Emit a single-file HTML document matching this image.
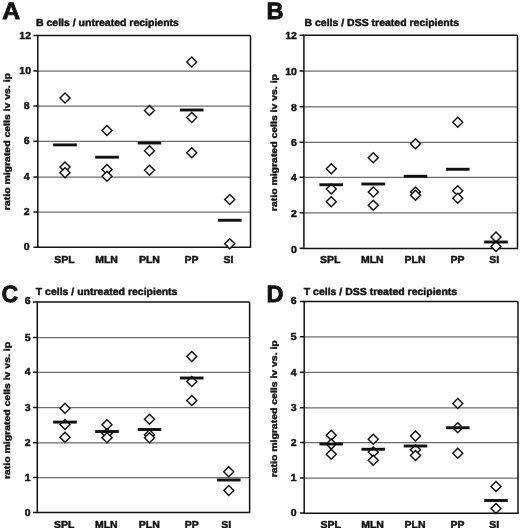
<!DOCTYPE html>
<html><head><meta charset="utf-8"><title>Figure</title>
<style>html,body{margin:0;padding:0;background:#fff}svg{display:block;filter:grayscale(1)}text{font-family:"Liberation Sans",sans-serif;font-weight:bold;text-rendering:geometricPrecision;stroke:#111;stroke-width:0.45px;paint-order:stroke}</style></head><body>
<svg width="520" height="528" viewBox="0 0 520 528">
<rect width="520" height="528" fill="#fff"/>
<g id="panelA" opacity="0.999">
<line x1="37.8" y1="71.0" x2="250.5" y2="71.0" stroke="#6c6c6c" stroke-width="1.25"/>
<line x1="37.8" y1="106.0" x2="250.5" y2="106.0" stroke="#6c6c6c" stroke-width="1.25"/>
<line x1="37.8" y1="141.25" x2="250.5" y2="141.25" stroke="#6c6c6c" stroke-width="1.25"/>
<line x1="37.8" y1="177.0" x2="250.5" y2="177.0" stroke="#6c6c6c" stroke-width="1.25"/>
<line x1="37.8" y1="212.0" x2="250.5" y2="212.0" stroke="#6c6c6c" stroke-width="1.25"/>
<path d="M37.8 247.25L37.8 35.5L249.5 35.5Q250.5 35.5 250.5 36.5L250.5 247.25Z" fill="none" stroke="#111" stroke-width="1.5"/>
<line x1="33.5" y1="35.5" x2="37.8" y2="35.5" stroke="#111" stroke-width="1.5"/>
<text transform="translate(31.0 38.5) scale(1.03 1.0)" text-anchor="end" font-size="10.2" fill="#111">12</text>
<line x1="33.5" y1="71.0" x2="37.8" y2="71.0" stroke="#111" stroke-width="1.5"/>
<text transform="translate(31.0 74.0) scale(1.03 1.0)" text-anchor="end" font-size="10.2" fill="#111">10</text>
<line x1="33.5" y1="106.0" x2="37.8" y2="106.0" stroke="#111" stroke-width="1.5"/>
<text transform="translate(29.5 109.0) scale(1.03 1.0)" text-anchor="end" font-size="10.2" fill="#111">8</text>
<line x1="33.5" y1="141.25" x2="37.8" y2="141.25" stroke="#111" stroke-width="1.5"/>
<text transform="translate(29.5 144.25) scale(1.03 1.0)" text-anchor="end" font-size="10.2" fill="#111">6</text>
<line x1="33.5" y1="177.0" x2="37.8" y2="177.0" stroke="#111" stroke-width="1.5"/>
<text transform="translate(29.5 180.0) scale(1.03 1.0)" text-anchor="end" font-size="10.2" fill="#111">4</text>
<line x1="33.5" y1="212.0" x2="37.8" y2="212.0" stroke="#111" stroke-width="1.5"/>
<text transform="translate(29.5 215.0) scale(1.03 1.0)" text-anchor="end" font-size="10.2" fill="#111">2</text>
<line x1="33.5" y1="247.25" x2="37.8" y2="247.25" stroke="#111" stroke-width="1.5"/>
<text transform="translate(29.5 250.25) scale(1.03 1.0)" text-anchor="end" font-size="10.2" fill="#111">0</text>
<path d="M60.00 98.00L65.00 93.00L70.00 98.00L65.00 103.00Z" fill="#fff" stroke="#111" stroke-width="1.45"/>
<path d="M60.00 167.00L65.00 162.00L70.00 167.00L65.00 172.00Z" fill="#fff" stroke="#111" stroke-width="1.45"/>
<path d="M60.00 172.75L65.00 167.75L70.00 172.75L65.00 177.75Z" fill="#fff" stroke="#111" stroke-width="1.45"/>
<rect x="53.20" y="143.45" width="23.6" height="2.9" fill="#111"/>
<path d="M102.00 130.50L107.00 125.50L112.00 130.50L107.00 135.50Z" fill="#fff" stroke="#111" stroke-width="1.45"/>
<path d="M102.00 169.50L107.00 164.50L112.00 169.50L107.00 174.50Z" fill="#fff" stroke="#111" stroke-width="1.45"/>
<path d="M102.00 176.25L107.00 171.25L112.00 176.25L107.00 181.25Z" fill="#fff" stroke="#111" stroke-width="1.45"/>
<rect x="95.20" y="155.75" width="23.6" height="2.9" fill="#111"/>
<path d="M144.50 110.50L149.50 105.50L154.50 110.50L149.50 115.50Z" fill="#fff" stroke="#111" stroke-width="1.45"/>
<path d="M144.50 150.75L149.50 145.75L154.50 150.75L149.50 155.75Z" fill="#fff" stroke="#111" stroke-width="1.45"/>
<path d="M144.50 170.25L149.50 165.25L154.50 170.25L149.50 175.25Z" fill="#fff" stroke="#111" stroke-width="1.45"/>
<rect x="137.70" y="141.55" width="23.6" height="2.9" fill="#111"/>
<path d="M186.75 62.00L191.75 57.00L196.75 62.00L191.75 67.00Z" fill="#fff" stroke="#111" stroke-width="1.45"/>
<path d="M186.75 117.50L191.75 112.50L196.75 117.50L191.75 122.50Z" fill="#fff" stroke="#111" stroke-width="1.45"/>
<path d="M186.75 152.75L191.75 147.75L196.75 152.75L191.75 157.75Z" fill="#fff" stroke="#111" stroke-width="1.45"/>
<rect x="179.95" y="108.55" width="23.6" height="2.9" fill="#111"/>
<path d="M224.75 199.50L229.75 194.50L234.75 199.50L229.75 204.50Z" fill="#fff" stroke="#111" stroke-width="1.45"/>
<path d="M224.75 243.75L229.75 238.75L234.75 243.75L229.75 248.75Z" fill="#fff" stroke="#111" stroke-width="1.45"/>
<rect x="217.95" y="218.80" width="23.6" height="2.9" fill="#111"/>
<text transform="translate(64.5 263.0) scale(1.03 1.0)" text-anchor="middle" font-size="10.2" fill="#111">SPL</text>
<text transform="translate(106.5 263.0) scale(1.03 1.0)" text-anchor="middle" font-size="10.2" fill="#111">MLN</text>
<text transform="translate(149.4 263.0) scale(1.03 1.0)" text-anchor="middle" font-size="10.2" fill="#111">PLN</text>
<text transform="translate(191.5 263.0) scale(1.03 1.0)" text-anchor="middle" font-size="10.2" fill="#111">PP</text>
<text transform="translate(228.5 263.0) scale(1.03 1.0)" text-anchor="middle" font-size="10.2" fill="#111">SI</text>
<text transform="translate(36 25.7) scale(1.03 1.0)" text-anchor="start" font-size="10.2" fill="#111">B cells / untreated recipients</text>
<text transform="translate(2.3 19.2) scale(1.05 1.0)" text-anchor="start" font-size="23.6" fill="#111" style="stroke-width:0.8px">A</text>
<text transform="translate(10.2 141.6) rotate(-90) scale(1.045 0.88)" text-anchor="middle" font-size="10" fill="#111">ratio migrated cells iv vs. ip</text>
</g>
<g id="panelB" opacity="0.999">
<line x1="303.9" y1="71.0" x2="517.5" y2="71.0" stroke="#6c6c6c" stroke-width="1.25"/>
<line x1="303.9" y1="106.75" x2="517.5" y2="106.75" stroke="#6c6c6c" stroke-width="1.25"/>
<line x1="303.9" y1="142.25" x2="517.5" y2="142.25" stroke="#6c6c6c" stroke-width="1.25"/>
<line x1="303.9" y1="177.25" x2="517.5" y2="177.25" stroke="#6c6c6c" stroke-width="1.25"/>
<line x1="303.9" y1="212.75" x2="517.5" y2="212.75" stroke="#6c6c6c" stroke-width="1.25"/>
<path d="M303.9 248.4L303.9 35.25L516.5 35.25Q517.5 35.25 517.5 36.25L517.5 248.4Z" fill="none" stroke="#111" stroke-width="1.5"/>
<line x1="299.59999999999997" y1="35.25" x2="303.9" y2="35.25" stroke="#111" stroke-width="1.5"/>
<text transform="translate(296.9 38.85) scale(1.03 1.0)" text-anchor="end" font-size="10.2" fill="#111">12</text>
<line x1="299.59999999999997" y1="71.0" x2="303.9" y2="71.0" stroke="#111" stroke-width="1.5"/>
<text transform="translate(296.9 75.0) scale(1.03 1.0)" text-anchor="end" font-size="10.2" fill="#111">10</text>
<line x1="299.59999999999997" y1="106.75" x2="303.9" y2="106.75" stroke="#111" stroke-width="1.5"/>
<text transform="translate(296.9 110.75) scale(1.03 1.0)" text-anchor="end" font-size="10.2" fill="#111">8</text>
<line x1="299.59999999999997" y1="142.25" x2="303.9" y2="142.25" stroke="#111" stroke-width="1.5"/>
<text transform="translate(296.9 146.25) scale(1.03 1.0)" text-anchor="end" font-size="10.2" fill="#111">6</text>
<line x1="299.59999999999997" y1="177.25" x2="303.9" y2="177.25" stroke="#111" stroke-width="1.5"/>
<text transform="translate(296.9 181.25) scale(1.03 1.0)" text-anchor="end" font-size="10.2" fill="#111">4</text>
<line x1="299.59999999999997" y1="212.75" x2="303.9" y2="212.75" stroke="#111" stroke-width="1.5"/>
<text transform="translate(296.9 216.75) scale(1.03 1.0)" text-anchor="end" font-size="10.2" fill="#111">2</text>
<line x1="299.59999999999997" y1="248.25" x2="303.9" y2="248.25" stroke="#111" stroke-width="1.5"/>
<text transform="translate(296.9 252.75) scale(1.03 1.0)" text-anchor="end" font-size="10.2" fill="#111">0</text>
<path d="M326.25 168.75L331.25 163.75L336.25 168.75L331.25 173.75Z" fill="#fff" stroke="#111" stroke-width="1.45"/>
<path d="M326.25 189.00L331.25 184.00L336.25 189.00L331.25 194.00Z" fill="#fff" stroke="#111" stroke-width="1.45"/>
<path d="M326.25 201.75L331.25 196.75L336.25 201.75L331.25 206.75Z" fill="#fff" stroke="#111" stroke-width="1.45"/>
<rect x="319.45" y="183.30" width="23.6" height="2.9" fill="#111"/>
<path d="M368.25 157.75L373.25 152.75L378.25 157.75L373.25 162.75Z" fill="#fff" stroke="#111" stroke-width="1.45"/>
<path d="M368.25 192.00L373.25 187.00L378.25 192.00L373.25 197.00Z" fill="#fff" stroke="#111" stroke-width="1.45"/>
<path d="M368.25 205.25L373.25 200.25L378.25 205.25L373.25 210.25Z" fill="#fff" stroke="#111" stroke-width="1.45"/>
<rect x="361.45" y="182.55" width="23.6" height="2.9" fill="#111"/>
<path d="M410.50 143.75L415.50 138.75L420.50 143.75L415.50 148.75Z" fill="#fff" stroke="#111" stroke-width="1.45"/>
<path d="M410.50 192.00L415.50 187.00L420.50 192.00L415.50 197.00Z" fill="#fff" stroke="#111" stroke-width="1.45"/>
<path d="M410.50 195.25L415.50 190.25L420.50 195.25L415.50 200.25Z" fill="#fff" stroke="#111" stroke-width="1.45"/>
<rect x="403.70" y="174.80" width="23.6" height="2.9" fill="#111"/>
<path d="M452.75 122.25L457.75 117.25L462.75 122.25L457.75 127.25Z" fill="#fff" stroke="#111" stroke-width="1.45"/>
<path d="M452.75 190.75L457.75 185.75L462.75 190.75L457.75 195.75Z" fill="#fff" stroke="#111" stroke-width="1.45"/>
<path d="M452.75 198.25L457.75 193.25L462.75 198.25L457.75 203.25Z" fill="#fff" stroke="#111" stroke-width="1.45"/>
<rect x="445.95" y="167.80" width="23.6" height="2.9" fill="#111"/>
<path d="M491.00 237.00L496.00 232.00L501.00 237.00L496.00 242.00Z" fill="#fff" stroke="#111" stroke-width="1.45"/>
<path d="M491.00 246.50L496.00 241.50L501.00 246.50L496.00 251.50Z" fill="#fff" stroke="#111" stroke-width="1.45"/>
<rect x="484.20" y="240.55" width="23.6" height="2.9" fill="#111"/>
<text transform="translate(330.2 263.1) scale(1.03 1.0)" text-anchor="middle" font-size="10.2" fill="#111">SPL</text>
<text transform="translate(372.3 263.1) scale(1.03 1.0)" text-anchor="middle" font-size="10.2" fill="#111">MLN</text>
<text transform="translate(415 263.1) scale(1.03 1.0)" text-anchor="middle" font-size="10.2" fill="#111">PLN</text>
<text transform="translate(457.5 263.1) scale(1.03 1.0)" text-anchor="middle" font-size="10.2" fill="#111">PP</text>
<text transform="translate(494.25 263.1) scale(1.03 1.0)" text-anchor="middle" font-size="10.2" fill="#111">SI</text>
<text transform="translate(304.5 25.7) scale(1.03 1.0)" text-anchor="start" font-size="10.2" fill="#111">B cells / DSS treated recipients</text>
<text transform="translate(266.5 18.7) scale(1.0 1.0)" text-anchor="start" font-size="23.6" fill="#111" style="stroke-width:0.8px">B</text>
<text transform="translate(277.2 142.6) rotate(-90) scale(1.045 0.88)" text-anchor="middle" font-size="10" fill="#111">ratio migrated cells iv vs. ip</text>
</g>
<g id="panelC" opacity="0.999">
<line x1="37.3" y1="337.5" x2="249.6" y2="337.5" stroke="#6c6c6c" stroke-width="1.25"/>
<line x1="37.3" y1="372.25" x2="249.6" y2="372.25" stroke="#6c6c6c" stroke-width="1.25"/>
<line x1="37.3" y1="407.5" x2="249.6" y2="407.5" stroke="#6c6c6c" stroke-width="1.25"/>
<line x1="37.3" y1="442.75" x2="249.6" y2="442.75" stroke="#6c6c6c" stroke-width="1.25"/>
<line x1="37.3" y1="477.5" x2="249.6" y2="477.5" stroke="#6c6c6c" stroke-width="1.25"/>
<path d="M37.3 512.6L37.3 302L248.6 302Q249.6 302 249.6 303L249.6 512.6Z" fill="none" stroke="#111" stroke-width="1.5"/>
<line x1="33.0" y1="302" x2="37.3" y2="302" stroke="#111" stroke-width="1.5"/>
<text transform="translate(30.5 304.1) scale(1.03 1.0)" text-anchor="end" font-size="10.2" fill="#111">6</text>
<line x1="33.0" y1="337.5" x2="37.3" y2="337.5" stroke="#111" stroke-width="1.5"/>
<text transform="translate(30.5 340.6) scale(1.03 1.0)" text-anchor="end" font-size="10.2" fill="#111">5</text>
<line x1="33.0" y1="372.25" x2="37.3" y2="372.25" stroke="#111" stroke-width="1.5"/>
<text transform="translate(30.5 375.35) scale(1.03 1.0)" text-anchor="end" font-size="10.2" fill="#111">4</text>
<line x1="33.0" y1="407.5" x2="37.3" y2="407.5" stroke="#111" stroke-width="1.5"/>
<text transform="translate(30.5 410.6) scale(1.03 1.0)" text-anchor="end" font-size="10.2" fill="#111">3</text>
<line x1="33.0" y1="442.75" x2="37.3" y2="442.75" stroke="#111" stroke-width="1.5"/>
<text transform="translate(30.5 445.85) scale(1.03 1.0)" text-anchor="end" font-size="10.2" fill="#111">2</text>
<line x1="33.0" y1="477.5" x2="37.3" y2="477.5" stroke="#111" stroke-width="1.5"/>
<text transform="translate(30.5 480.6) scale(1.03 1.0)" text-anchor="end" font-size="10.2" fill="#111">1</text>
<line x1="33.0" y1="512.5" x2="37.3" y2="512.5" stroke="#111" stroke-width="1.5"/>
<text transform="translate(30.5 515.6) scale(1.03 1.0)" text-anchor="end" font-size="10.2" fill="#111">0</text>
<path d="M60.00 408.30L65.00 403.30L70.00 408.30L65.00 413.30Z" fill="#fff" stroke="#111" stroke-width="1.45"/>
<path d="M60.00 424.50L65.00 419.50L70.00 424.50L65.00 429.50Z" fill="#fff" stroke="#111" stroke-width="1.45"/>
<path d="M60.00 437.20L65.00 432.20L70.00 437.20L65.00 442.20Z" fill="#fff" stroke="#111" stroke-width="1.45"/>
<rect x="53.20" y="420.65" width="23.6" height="2.9" fill="#111"/>
<path d="M102.00 424.75L107.00 419.75L112.00 424.75L107.00 429.75Z" fill="#fff" stroke="#111" stroke-width="1.45"/>
<path d="M102.00 433.50L107.00 428.50L112.00 433.50L107.00 438.50Z" fill="#fff" stroke="#111" stroke-width="1.45"/>
<path d="M102.00 437.75L107.00 432.75L112.00 437.75L107.00 442.75Z" fill="#fff" stroke="#111" stroke-width="1.45"/>
<rect x="95.20" y="430.05" width="23.6" height="2.9" fill="#111"/>
<path d="M144.50 419.25L149.50 414.25L154.50 419.25L149.50 424.25Z" fill="#fff" stroke="#111" stroke-width="1.45"/>
<path d="M144.50 434.75L149.50 429.75L154.50 434.75L149.50 439.75Z" fill="#fff" stroke="#111" stroke-width="1.45"/>
<path d="M144.50 437.75L149.50 432.75L154.50 437.75L149.50 442.75Z" fill="#fff" stroke="#111" stroke-width="1.45"/>
<rect x="137.70" y="428.05" width="23.6" height="2.9" fill="#111"/>
<path d="M186.75 356.50L191.75 351.50L196.75 356.50L191.75 361.50Z" fill="#fff" stroke="#111" stroke-width="1.45"/>
<path d="M186.75 381.50L191.75 376.50L196.75 381.50L191.75 386.50Z" fill="#fff" stroke="#111" stroke-width="1.45"/>
<path d="M186.75 400.50L191.75 395.50L196.75 400.50L191.75 405.50Z" fill="#fff" stroke="#111" stroke-width="1.45"/>
<rect x="179.95" y="376.55" width="23.6" height="2.9" fill="#111"/>
<path d="M223.75 471.75L228.75 466.75L233.75 471.75L228.75 476.75Z" fill="#fff" stroke="#111" stroke-width="1.45"/>
<path d="M223.75 490.50L228.75 485.50L233.75 490.50L228.75 495.50Z" fill="#fff" stroke="#111" stroke-width="1.45"/>
<rect x="216.95" y="478.55" width="23.6" height="2.9" fill="#111"/>
<text transform="translate(64.25 527.9) scale(1.03 1.0)" text-anchor="middle" font-size="10.2" fill="#111">SPL</text>
<text transform="translate(106.25 527.9) scale(1.03 1.0)" text-anchor="middle" font-size="10.2" fill="#111">MLN</text>
<text transform="translate(149.25 527.9) scale(1.03 1.0)" text-anchor="middle" font-size="10.2" fill="#111">PLN</text>
<text transform="translate(191.75 527.9) scale(1.03 1.0)" text-anchor="middle" font-size="10.2" fill="#111">PP</text>
<text transform="translate(226.25 527.9) scale(1.03 1.0)" text-anchor="middle" font-size="10.2" fill="#111">SI</text>
<text transform="translate(35.75 295.2) scale(1.03 1.0)" text-anchor="start" font-size="10.2" fill="#111">T cells / untreated recipients</text>
<text transform="translate(1.6 302.0) scale(0.98 1.0)" text-anchor="start" font-size="23.6" fill="#111" style="stroke-width:0.8px">C</text>
<text transform="translate(10.4 410.5) rotate(-90) scale(1.045 0.88)" text-anchor="middle" font-size="10" fill="#111">ratio migrated cells iv vs. ip</text>
</g>
<g id="panelD" opacity="0.999">
<line x1="304.2" y1="336.75" x2="518" y2="336.75" stroke="#6c6c6c" stroke-width="1.25"/>
<line x1="304.2" y1="372.25" x2="518" y2="372.25" stroke="#6c6c6c" stroke-width="1.25"/>
<line x1="304.2" y1="407.75" x2="518" y2="407.75" stroke="#6c6c6c" stroke-width="1.25"/>
<line x1="304.2" y1="442.5" x2="518" y2="442.5" stroke="#6c6c6c" stroke-width="1.25"/>
<line x1="304.2" y1="478" x2="518" y2="478" stroke="#6c6c6c" stroke-width="1.25"/>
<path d="M304.2 513.2L304.2 301.5L517 301.5Q518 301.5 518 302.5L518 513.2Z" fill="none" stroke="#111" stroke-width="1.5"/>
<line x1="299.9" y1="301.5" x2="304.2" y2="301.5" stroke="#111" stroke-width="1.5"/>
<text transform="translate(296.7 303.8) scale(1.03 1.0)" text-anchor="end" font-size="10.2" fill="#111">6</text>
<line x1="299.9" y1="336.75" x2="304.2" y2="336.75" stroke="#111" stroke-width="1.5"/>
<text transform="translate(296.7 340.05) scale(1.03 1.0)" text-anchor="end" font-size="10.2" fill="#111">5</text>
<line x1="299.9" y1="372.25" x2="304.2" y2="372.25" stroke="#111" stroke-width="1.5"/>
<text transform="translate(296.7 375.55) scale(1.03 1.0)" text-anchor="end" font-size="10.2" fill="#111">4</text>
<line x1="299.9" y1="407.75" x2="304.2" y2="407.75" stroke="#111" stroke-width="1.5"/>
<text transform="translate(296.7 411.05) scale(1.03 1.0)" text-anchor="end" font-size="10.2" fill="#111">3</text>
<line x1="299.9" y1="442.5" x2="304.2" y2="442.5" stroke="#111" stroke-width="1.5"/>
<text transform="translate(296.7 445.8) scale(1.03 1.0)" text-anchor="end" font-size="10.2" fill="#111">2</text>
<line x1="299.9" y1="478" x2="304.2" y2="478" stroke="#111" stroke-width="1.5"/>
<text transform="translate(296.7 481.3) scale(1.03 1.0)" text-anchor="end" font-size="10.2" fill="#111">1</text>
<line x1="299.9" y1="513" x2="304.2" y2="513" stroke="#111" stroke-width="1.5"/>
<text transform="translate(296.7 516.3000000000001) scale(1.03 1.0)" text-anchor="end" font-size="10.2" fill="#111">0</text>
<path d="M326.25 435.25L331.25 430.25L336.25 435.25L331.25 440.25Z" fill="#fff" stroke="#111" stroke-width="1.45"/>
<path d="M326.25 444.10L331.25 439.10L336.25 444.10L331.25 449.10Z" fill="#fff" stroke="#111" stroke-width="1.45"/>
<path d="M326.25 454.25L331.25 449.25L336.25 454.25L331.25 459.25Z" fill="#fff" stroke="#111" stroke-width="1.45"/>
<rect x="319.45" y="442.55" width="23.6" height="2.9" fill="#111"/>
<path d="M368.25 439.25L373.25 434.25L378.25 439.25L373.25 444.25Z" fill="#fff" stroke="#111" stroke-width="1.45"/>
<path d="M368.25 452.00L373.25 447.00L378.25 452.00L373.25 457.00Z" fill="#fff" stroke="#111" stroke-width="1.45"/>
<path d="M368.25 460.25L373.25 455.25L378.25 460.25L373.25 465.25Z" fill="#fff" stroke="#111" stroke-width="1.45"/>
<rect x="361.45" y="447.80" width="23.6" height="2.9" fill="#111"/>
<path d="M410.50 436.00L415.50 431.00L420.50 436.00L415.50 441.00Z" fill="#fff" stroke="#111" stroke-width="1.45"/>
<path d="M410.50 449.75L415.50 444.75L420.50 449.75L415.50 454.75Z" fill="#fff" stroke="#111" stroke-width="1.45"/>
<path d="M410.50 455.50L415.50 450.50L420.50 455.50L415.50 460.50Z" fill="#fff" stroke="#111" stroke-width="1.45"/>
<rect x="403.70" y="444.55" width="23.6" height="2.9" fill="#111"/>
<path d="M452.75 403.50L457.75 398.50L462.75 403.50L457.75 408.50Z" fill="#fff" stroke="#111" stroke-width="1.45"/>
<path d="M452.75 427.75L457.75 422.75L462.75 427.75L457.75 432.75Z" fill="#fff" stroke="#111" stroke-width="1.45"/>
<path d="M452.75 453.25L457.75 448.25L462.75 453.25L457.75 458.25Z" fill="#fff" stroke="#111" stroke-width="1.45"/>
<rect x="445.95" y="426.30" width="23.6" height="2.9" fill="#111"/>
<path d="M491.00 486.50L496.00 481.50L501.00 486.50L496.00 491.50Z" fill="#fff" stroke="#111" stroke-width="1.45"/>
<path d="M491.00 508.50L496.00 503.50L501.00 508.50L496.00 513.50Z" fill="#fff" stroke="#111" stroke-width="1.45"/>
<rect x="484.20" y="499.05" width="23.6" height="2.9" fill="#111"/>
<text transform="translate(330.75 528.3) scale(1.03 1.0)" text-anchor="middle" font-size="10.2" fill="#111">SPL</text>
<text transform="translate(372.5 528.3) scale(1.03 1.0)" text-anchor="middle" font-size="10.2" fill="#111">MLN</text>
<text transform="translate(415 528.3) scale(1.03 1.0)" text-anchor="middle" font-size="10.2" fill="#111">PLN</text>
<text transform="translate(457.5 528.3) scale(1.03 1.0)" text-anchor="middle" font-size="10.2" fill="#111">PP</text>
<text transform="translate(494.25 528.3) scale(1.03 1.0)" text-anchor="middle" font-size="10.2" fill="#111">SI</text>
<text transform="translate(303.75 295.2) scale(1.03 1.0)" text-anchor="start" font-size="10.2" fill="#111">T cells / DSS treated recipients</text>
<text transform="translate(266.4 302.0) scale(1.0 1.0)" text-anchor="start" font-size="23.6" fill="#111" style="stroke-width:0.8px">D</text>
<text transform="translate(277.1 408.8) rotate(-90) scale(1.045 0.88)" text-anchor="middle" font-size="10" fill="#111">ratio migrated cells iv vs. ip</text>
</g>
</svg></body></html>
